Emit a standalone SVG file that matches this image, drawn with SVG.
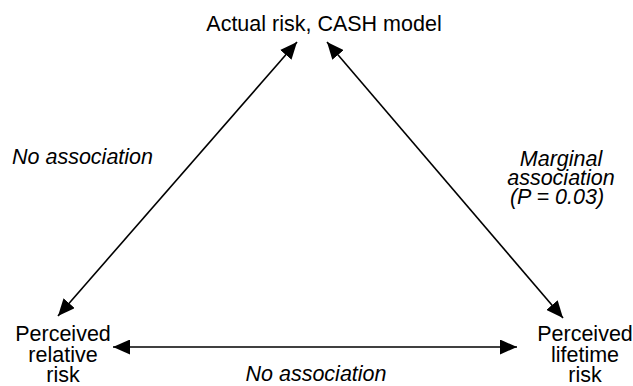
<svg xmlns="http://www.w3.org/2000/svg" width="633" height="386" viewBox="0 0 633 386">
  <style>
    .lbl { font-family: "Liberation Sans", Arial, sans-serif; font-size: 21.5px; fill: #000; text-anchor: middle; }
    .edge { font-family: "Liberation Sans", Arial, sans-serif; font-size: 21.5px; font-style: italic; fill: #000; }
    .conn { stroke: #000; stroke-width: 1.6; fill: none; marker-start: url(#arr); marker-end: url(#arr); }
  </style>
  <defs>
    <marker id="arr" markerUnits="userSpaceOnUse" markerWidth="17" markerHeight="15" refX="17" refY="7.5" orient="auto-start-reverse" viewBox="0 0 17 15">
      <path d="M0,0 L17,7.5 L0,15 z" fill="#000"/>
    </marker>
  </defs>
  <rect width="633" height="386" fill="#fff"/>
  <g id="connectors">
    <line class="conn" x1="297" y1="42" x2="58" y2="316"/>
    <line class="conn" x1="327" y1="42" x2="563" y2="318"/>
    <line class="conn" x1="113" y1="347" x2="517" y2="347"/>
  </g>
  <g id="node-actual">
    <text class="lbl" x="324" y="31">Actual risk, CASH model</text>
  </g>
  <g id="node-relative">
    <text class="lbl" x="63" y="341">Perceived</text>
    <text class="lbl" x="63" y="361.5">relative</text>
    <text class="lbl" x="63" y="382">risk</text>
  </g>
  <g id="node-lifetime">
    <text class="lbl" x="585" y="341">Perceived</text>
    <text class="lbl" x="585" y="361.5">lifetime</text>
    <text class="lbl" x="585" y="382">risk</text>
  </g>
  <g id="edge-labels">
    <text class="edge" x="12" y="164">No association</text>
    <text class="edge" x="561" y="166" text-anchor="middle">Marginal</text>
    <text class="edge" x="561" y="185" text-anchor="middle">association</text>
    <text class="edge" x="557" y="204" text-anchor="middle">(P = 0.03)</text>
    <text class="edge" x="316" y="381" text-anchor="middle">No association</text>
  </g>
</svg>
